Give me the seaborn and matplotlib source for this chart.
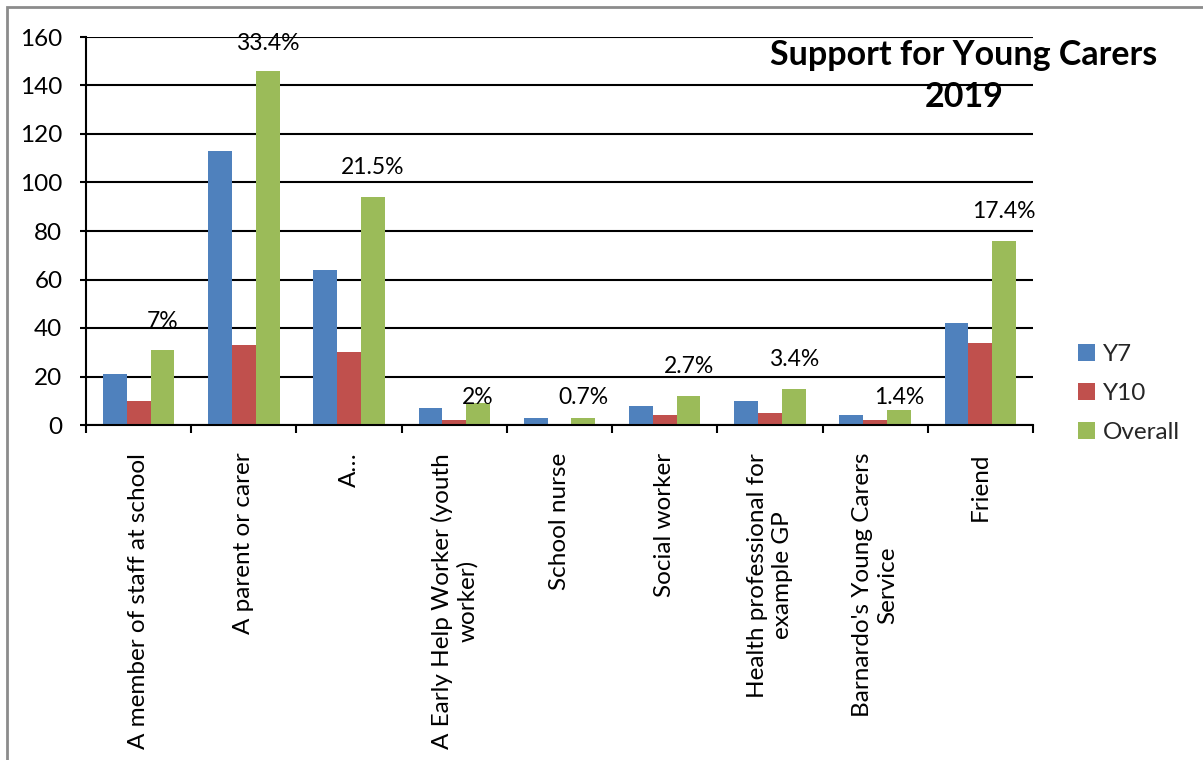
import matplotlib
matplotlib.use("Agg")
import matplotlib.pyplot as plt
import seaborn as sns
import pandas as pd
import numpy as np
from matplotlib.patches import Patch, Rectangle

# Survey responses: who young carers get support from
categories = [
    "A member of staff at school",
    "A parent or carer",
    "A…",
    "A Early Help Worker (youth\nworker)",
    "School nurse",
    "Social worker",
    "Health professional for\nexample GP",
    "Barnardo's Young Carers\nService",
    "Friend",
]
y7 = [21, 113, 64, 7, 3, 8, 10, 4, 42]
y10 = [10, 33, 30, 2, 0, 4, 5, 2, 34]
overall = [31, 146, 94, 9, 3, 12, 15, 6, 76]
pct_labels = ["7%", "33.4%", "21.5%", "2%", "0.7%", "2.7%", "3.4%", "1.4%", "17.4%"]
series = ["Y7", "Y10", "Overall"]
colors = ["#4F81BD", "#C0504D", "#9BBB59"]

# Height (in data units) at which each percentage label sits
pct_label_y = [42.5, 157.5, 106, 11.5, 11.5, 24, 27, 11.5, 88]

df = pd.DataFrame({
    "category": categories * 3,
    "series": [s for s in series for _ in categories],
    "count": y7 + y10 + overall,
})

sns.set_theme(style="white")
plt.rcParams["font.family"] = ["Lato", "DejaVu Sans"]

fig = plt.figure(figsize=(12.03, 7.6), dpi=100)
ax = fig.add_axes([86 / 1203, 1 - 425 / 760, (1033 - 86) / 1203, (425 - 37) / 760])

sns.barplot(data=df, x="category", y="count", hue="series", order=categories,
            hue_order=series, palette=colors, width=0.68, saturation=1,
            edgecolor="none", linewidth=0, ax=ax, legend=False)

ax.set_ylim(0, 160)
ax.set_xlim(-0.5, len(categories) - 0.5)
ax.set_yticks(np.arange(0, 161, 20))
ax.yaxis.grid(True, color="black", linewidth=1.5)
ax.set_axisbelow(True)
ax.set_xlabel("")
ax.set_ylabel("")

for side in ["top", "right"]:
    ax.spines[side].set_visible(False)
for side in ["left", "bottom"]:
    ax.spines[side].set_color("black")
    ax.spines[side].set_linewidth(1.5)

ax.tick_params(axis="y", which="major", direction="out", length=4.5, width=1.5,
               color="black", left=True, labelsize=17.5, labelcolor="black", pad=12.5)
ax.set_xticks(range(len(categories)))
ax.set_xticklabels(categories, rotation=90, ha="center", va="top",
                   multialignment="center", fontsize=17.5)
ax.tick_params(axis="x", which="major", length=0, pad=20, labelcolor="black")
ax.set_xticks(np.arange(-0.5, len(categories), 1), minor=True)
ax.tick_params(axis="x", which="minor", direction="out", length=6, width=1.5,
               color="black", bottom=True)

# Percentage labels above the Overall bars
offset = 0.68 / 3
for i, (lab, yy) in enumerate(zip(pct_labels, pct_label_y)):
    ax.text(i + offset, yy, lab, ha="center", va="center", fontsize=16.5,
            color="black")

# Title inside the upper right of the chart
title_lines = ["Support for Young Carers", "2019"]
title_y = [55, 97]
for line, ty in zip(title_lines, title_y):
    fig.text(964 / 1203, 1 - ty / 760, line, ha="center", va="center",
             fontsize=24.5, fontweight="bold", color="black")

handles = [Patch(facecolor=c, edgecolor="none", label=s) for s, c in zip(series, colors)]
fig.legend(handles=handles, loc="upper left", bbox_to_anchor=(1068 / 1203, 1 - 334 / 760),
           frameon=False, fontsize=17.5, handlelength=0.7, handleheight=0.7,
           handletextpad=0.35, labelspacing=0.75, borderaxespad=0)

# Chart-area border (left and top edges)
fig.patches.append(Rectangle((7 / 1203, -0.1), 1.2, 1 - 7 / 760 + 0.1,
                             transform=fig.transFigure, fill=False,
                             edgecolor="#8c8c8c", linewidth=2))

fig.savefig("out.png", dpi=100)
